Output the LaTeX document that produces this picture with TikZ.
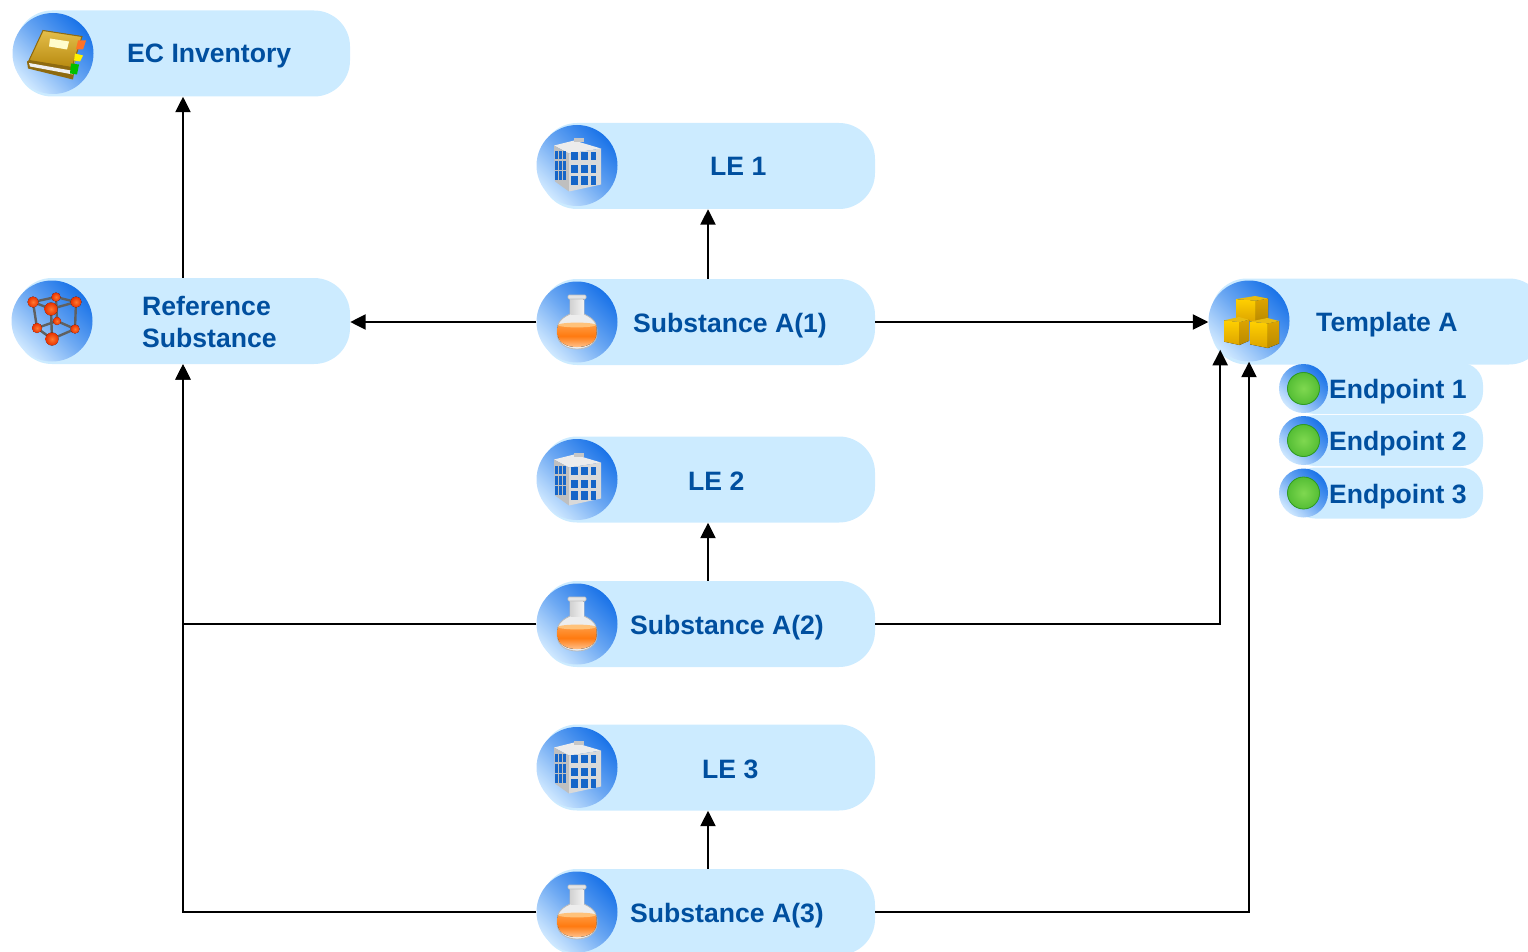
\documentclass[tikz,border=0pt]{standalone}
\usepackage{fontspec}
\setmainfont{Liberation Sans}
\usetikzlibrary{arrows.meta,calc}
\definecolor{pillc}{HTML}{CCEBFF}
\definecolor{txtc}{HTML}{004F9F}
\definecolor{iconblue}{HTML}{1A73E8}
\definecolor{iconpale}{HTML}{CFE8FF}
\definecolor{winblue}{HTML}{1565C8}
\definecolor{goldA}{HTML}{FFD000}
\definecolor{goldB}{HTML}{DDA400}
\definecolor{goldC}{HTML}{B98A00}
\definecolor{goldD}{HTML}{E8BC10}
\definecolor{atomA}{HTML}{FF7A30}
\definecolor{atomB}{HTML}{E83000}
\definecolor{ballA}{HTML}{7FD850}
\definecolor{ballB}{HTML}{55BE35}
\definecolor{ballC}{HTML}{2F9E22}
\definecolor{coverA}{HTML}{E4BE4A}
\definecolor{coverB}{HTML}{B88A10}
\definecolor{coverC}{HTML}{8E6A10}
\definecolor{liqA}{HTML}{FF9A40}
\definecolor{liqB}{HTML}{FF7A10}
\definecolor{liqC}{HTML}{FFC08A}
\definecolor{liqD}{HTML}{FFC27A}
\tikzset{
  pill/.style={draw=none,fill=pillc,rounded corners=36pt,inner sep=0pt,minimum width=334pt,minimum height=86pt},
  smallpill/.style={draw=none,fill=pillc,rounded corners=22pt,inner sep=0pt,minimum width=190pt,minimum height=51pt},
  icon/.style={circle,draw=none,inner sep=0pt,minimum size=81pt,shading=axis,top color=iconblue,bottom color=iconpale,middle color=iconblue!55!iconpale,shading angle=-45},
  smallicon/.style={icon,minimum size=49pt},
  lbl/.style={text=txtc,font=\fontsize{26.6pt}{32pt}\selectfont\bfseries,inner sep=0pt,anchor=base west},
  lbltwo/.style={lbl,anchor=west,align=left},
  link/.style={line width=2pt,black,-{Triangle[width=15pt,length=15.5pt]}},
  book/.pic={
    \fill[white!92!gray,draw=coverC,line width=.5pt] (-25,10)--(-9,-4)--(23,4)--(18,25)--cycle;
    \fill[top color=coverA,bottom color=coverB,draw=coverC,line width=1pt] (-10,-23)--(29,-17)--(19,14)--(-24,7)--cycle;
    \fill[coverC] (-26,8)--(-25,15)--(20,26)--(21,20)--(19,14)--(-24,7)--cycle;
    \fill[white!88!gray] (-24,9.5)--(18,17)--(20,21)--(-23,13)--cycle;
    \fill[yellow!20] (-3,-15)--(16,-12)--(14,-4)--(-4,-7)--cycle;
    \fill[orange!70!red!85!white] (25,-13)--(33,-13)--(30,-4)--(23,-4)--cycle;
    \fill[yellow] (22,0)--(30,2)--(27,8)--(21,7)--cycle;
    \fill[green!75!black] (18,10)--(26,11)--(24,21)--(17,20)--cycle;
  },
  molecule/.pic={
    \draw[gray!75!black,line width=2.4pt]
      (-19,-19)--(-1,-12)--(24,-19)--(4,-24)--cycle
      (-15,7)--(0,18)--(23,8)--(5,0)--cycle
      (-19,-19)--(-15,7) (-1,-12)--(0,18) (24,-19)--(23,8) (4,-24)--(5,0);
    \foreach \p/\q/\r in {4/-24/4.5,5/0/4,-15/7/5,23/8/4.5,-19/-19/5.5,24/-19/5.5,0/18/6.5,-1/-12/6.5}
      \fill[shading=radial,inner color=atomA,outer color=atomB] (\p,\q) circle[radius=\r];
  },
  building/.pic={
    \fill[gray!15] (-23,-20)--(-3,-25)--(24,-17)--(-8,-12)--cycle;
    \fill[gray!45] (-3,-27) rectangle (7,-23);
    \fill[gray!50] (-23,-20)--(-8,-12)--(-8,26)--(-22,16)--cycle;
    \fill[gray!30] (-8,-12)--(24,-17)--(24,19)--(-8,26)--cycle;
    \foreach \a/\b in {-6/1,4/11,14/19} \foreach \c/\d in {-13/-5,0/8,11/20}
      \fill[winblue] (\a,\c) rectangle (\b,\d);
    \foreach \a/\b in {-22/-19.5,-18/-15.5,-14/-11} \foreach \c/\d in {-14/-6,-4/5,6/15}
      \fill[winblue] (\a,\c) rectangle (\b,\d);
  },
  flask/.pic={
    \fill[gray!14,draw=gray!55,line width=.8pt] (-7,-24)--(-7,-8) .. controls (-20,-2) and (-20,4) .. (-20,11) .. controls (-20,22) and (-10,27) .. (0,27) .. controls (10,27) and (20,22) .. (20,11) .. controls (20,4) and (20,-2) .. (7,-8)--(7,-24)--cycle;
    \fill[left color=gray!35,right color=white!90!gray] (-6.5,-23) rectangle (6.5,-8);
    \fill[gray!20,draw=gray!50,line width=.6pt,rounded corners=1pt] (-9,-27) rectangle (9,-23);
    \fill[top color=liqA,bottom color=liqC,middle color=liqB] (-19,3) .. controls (-19.5,7) and (-19.5,9) .. (-19.5,11) .. controls (-19.5,21) and (-10,25) .. (0,25) .. controls (10,25) and (19.5,21) .. (19.5,11) .. controls (19.5,9) and (19.5,7) .. (19,3) -- cycle;
    \fill[liqD] (0,3) ellipse[x radius=19,y radius=2.4];
  },
  cubes/.pic={
    \foreach \x/\y/\w/\h in {-13/-25/32/26,-25/-4/25/28,1/-3/29/30}{
      \fill[top color=goldA,bottom color=goldB] (\x,\y+.12*\h)--(\x+.62*\w,\y+.18*\h)--(\x+.62*\w,\y+\h)--(\x,\y+.88*\h)--cycle;
      \fill[top color=goldB,bottom color=goldC] (\x+.62*\w,\y+.18*\h)--(\x+\w,\y+.1*\h)--(\x+\w,\y+.85*\h)--(\x+.62*\w,\y+\h)--cycle;
      \fill[goldD] (\x,\y+.12*\h)--(\x+.6*\w,\y)--(\x+\w,\y+.1*\h)--(\x+.62*\w,\y+.18*\h)--cycle;
    }
  },
  greenball/.pic={
    \fill[shading=radial,inner color=ballA,outer color=ballB,draw=ballC,line width=.8pt] (0,0) circle[radius=16];
  },
}
\begin{document}
\begin{tikzpicture}[x=1pt,y=-1pt]
\useasboundingbox (0,0) rectangle (1528,952);
% pills
\node[pill] (ec) at (183,53.5) {};
\node[pill] (ref) at (183,321) {};
\node[pill] (le1) at (708,166) {};
\node[pill] (s1) at (708,322) {};
\node[pill] (le2) at (708,479.5) {};
\node[pill] (s2) at (708,624) {};
\node[pill] (le3) at (708,767.5) {};
\node[pill] (s3) at (708,912) {};
\node[pill] (tpl) at (1378,321.5) {};
\node[smallpill] (e1) at (1388,388.5) {};
\node[smallpill] (e2) at (1388,440.5) {};
\node[smallpill] (e3) at (1388,493) {};
% icons
\node[icon] (iec) at (53,53.5) {};
\node[icon] (iref) at (52,321) {};
\node[icon] (ile1) at (577,165.5) {};
\node[icon] (is1) at (577,322) {};
\node[icon] (ile2) at (577,479.5) {};
\node[icon] (is2) at (577,624) {};
\node[icon] (ile3) at (577,767.5) {};
\node[icon] (is3) at (577,912) {};
\node[icon] (itpl) at (1249,321) {};
\node[smallicon] (ie1) at (1303.5,388.5) {};
\node[smallicon] (ie2) at (1303.5,440.5) {};
\node[smallicon] (ie3) at (1303.5,493) {};
\pic at (iec.center) {book};
\pic at (iref.center) {molecule};
\pic at (ile1.center) {building};
\pic at (ile2.center) {building};
\pic at (ile3.center) {building};
\pic at (is1.center) {flask};
\pic at (is2.center) {flask};
\pic at (is3.center) {flask};
\pic at (itpl.center) {cubes};
\pic at (ie1.center) {greenball};
\pic at (ie2.center) {greenball};
\pic at (ie3.center) {greenball};
% labels
\node[lbl] (tec) at (127,63) {EC Inventory};
\node[lbltwo] (tref) at (142,322) {Reference\\Substance};
\node[lbl] (tle1) at (710,176) {LE 1};
\node[lbl] (ts1) at (633,332) {Substance A(1)};
\node[lbl] (tle2) at (688,490) {LE 2};
\node[lbl] (ts2) at (630,634) {Substance A(2)};
\node[lbl] (tle3) at (702,778) {LE 3};
\node[lbl] (ts3) at (630,922) {Substance A(3)};
\node[lbl] (ttpl) at (1316,331) {Template A};
\node[lbl] (te1) at (1329,398) {Endpoint 1};
\node[lbl] (te2) at (1329,450) {Endpoint 2};
\node[lbl] (te3) at (1329,503) {Endpoint 3};
% connectors
\draw[link] (ref.north) -- (ec.south);
\draw[link] (s1.north) -- (le1.south);
\draw[link] (s2.north) -- (le2.south);
\draw[link] (s3.north) -- (le3.south);
\draw[link] (is1.west) -- (is1.west -| ref.east);
\draw[link] (s1.east) -- (s1.east -| itpl.west);
\draw[link] (is2.west) -| (ref.south);
\draw[link] (is3.west) -| (ref.south);
\draw[link] (s2.east) -| (itpl.225);
\draw[link] (s3.east) -| (itpl.south);
\end{tikzpicture}
\end{document}
